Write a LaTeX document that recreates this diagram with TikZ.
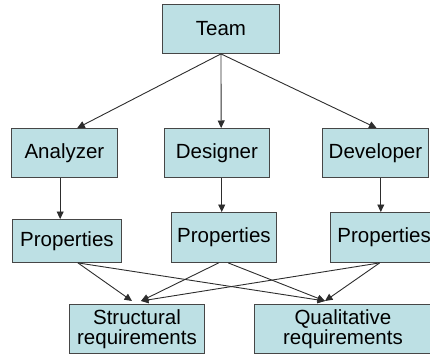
\documentclass[tikz,border=0pt]{standalone}
\usepackage{fontspec}
\setmainfont{Liberation Sans}
\usetikzlibrary{arrows.meta,calc}
\definecolor{boxfill}{RGB}{189,224,228}
\definecolor{boxline}{RGB}{70,70,70}
\definecolor{arrline}{RGB}{45,45,45}
\tikzset{
  box/.style={draw=boxline,line width=0.9pt,fill=boxfill,inner sep=0pt,
    font=\fontsize{20.5}{20.5}\selectfont,align=center,anchor=north west},
  arr/.style={draw=arrline,line width=0.9pt,-{Triangle[length=7.5pt,width=7pt]}}
}
\begin{document}
\begin{tikzpicture}[x=1pt,y=-1pt]
\useasboundingbox (0,0) rectangle (430,353);
\node[box,minimum width=117pt,minimum height=49pt] (team) at (162,4) {Team};
\node[box,minimum width=106pt,minimum height=49pt] (ana) at (11,128) {Analyzer};
\node[box,minimum width=105pt,minimum height=49pt] (des) at (164,128) {Designer};
\node[box,minimum width=106pt,minimum height=49pt] (dev) at (322,128) {Developer};
\node[box,minimum width=109pt,minimum height=43pt] (p1) at (12,219) {Properties};
\node[box,minimum width=105pt,minimum height=50pt] (p2) at (171,212) {Properties};
\node[box,minimum width=99pt,minimum height=50pt] (p3) at (330,212) {\hspace{7pt}Properties};
\node[box,minimum width=135pt,minimum height=49pt] (str) at (69,304) {Structural\\requirements};
\node[box,minimum width=177pt,minimum height=49pt] (qual) at (254,304) {Qualitative\\requirements};
% attachment points
\path ($(ana.north west)!0.62!(ana.north east)$) coordinate (anaT)
      ($(des.north west)!0.54!(des.north east)$) coordinate (desT)
      ($(dev.north west)!0.51!(dev.north east)$) coordinate (devT)
      ($(ana.south west)!0.46!(ana.south east)$) coordinate (anaB)
      ($(des.south west)!0.545!(des.south east)$) coordinate (desB)
      ($(dev.south west)!0.55!(dev.south east)$) coordinate (devB)
      ($(p1.south west)!0.6!(p1.south east)$) coordinate (p1B)
      ($(p2.south west)!0.45!(p2.south east)$) coordinate (p2Bs)
      ($(p2.south west)!0.54!(p2.south east)$) coordinate (p2Bq)
      ($(p3.south west)!0.49!(p3.south east)$) coordinate (p3B)
      ($(str.north west)+(63,-3)$) coordinate (strT1)
      ($(str.north west)+(72,-3)$) coordinate (strT2)
      ($(qual.north west)+(71,-3)$) coordinate (qualT);
\draw[arr] (team.south) -- (anaT);
\draw[arr] (team.south) -- (desT);
\draw[arr] (team.south) -- (devT);
\draw[arr] (anaB) -- (anaB |- p1.north);
\draw[arr] (desB) -- (desB |- p2.north);
\draw[arr] (devB) -- (devB |- p3.north);
\draw[arr] (p1B) -- (strT1);
\draw[arr] (p1B) -- (qualT);
\draw[arr] (p2Bs) -- (strT2);
\draw[arr] (p2Bq) -- (qualT);
\draw[arr] (p3B) -- (strT2);
\draw[arr] (p3B) -- (qualT);
\end{tikzpicture}
\end{document}
